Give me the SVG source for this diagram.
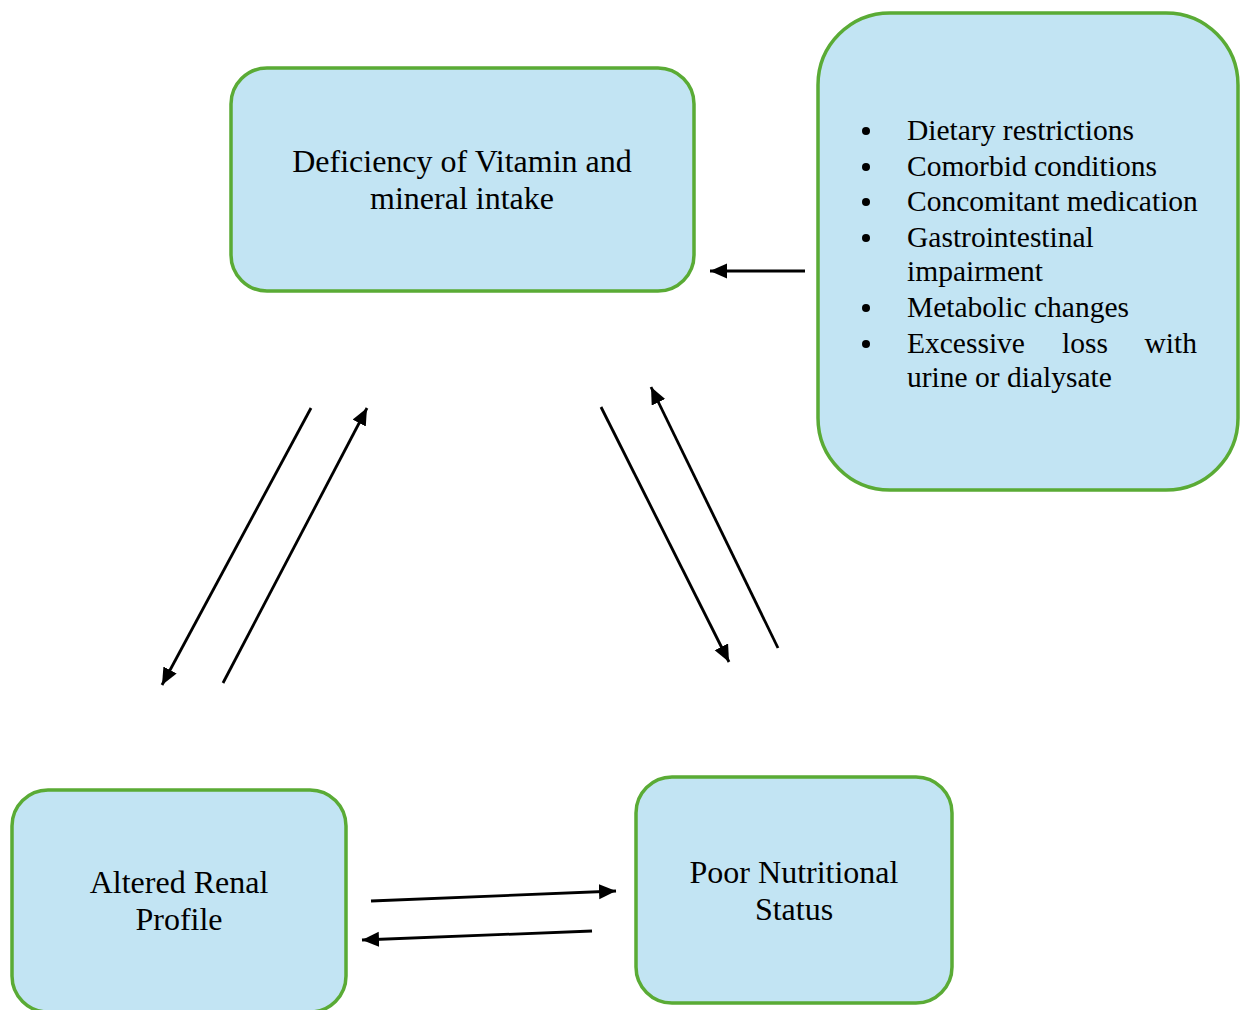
<svg xmlns="http://www.w3.org/2000/svg" width="1248" height="1010" viewBox="0 0 1248 1010">
<style>
.box{fill:#c2e4f3;stroke:#5aab35;stroke-width:3.5}
.t{font-family:"Liberation Serif","Times New Roman",serif;font-size:32px;fill:#000}
.l{font-family:"Liberation Serif","Times New Roman",serif;font-size:29.5px;fill:#000}
.c{stroke:#000;stroke-width:2.8;fill:none;marker-end:url(#ah)}
</style>
<defs>
<marker id="ah" markerUnits="userSpaceOnUse" markerWidth="20" markerHeight="16" refX="17" refY="7.5" orient="auto">
<path d="M0,0 L17,7.5 L0,15 z" fill="#000"/>
</marker>
</defs>
<rect width="1248" height="1010" fill="#fff"/>
<g id="n-deficiency">
<rect class="box" x="231" y="68" width="463" height="223" rx="36"/>
<text class="t" text-anchor="middle" x="462" y="172">Deficiency of Vitamin and</text>
<text class="t" text-anchor="middle" x="462" y="209">mineral intake</text>
</g>
<g id="n-factors">
<rect class="box" x="818" y="13" width="420" height="477" rx="72"/>
<circle cx="866" cy="131" r="4"/><text class="l" x="907" y="140">Dietary restrictions</text>
<circle cx="866" cy="167" r="4"/><text class="l" x="907" y="176">Comorbid conditions</text>
<circle cx="866" cy="202" r="4"/><text class="l" x="907" y="211">Concomitant medication</text>
<circle cx="866" cy="238" r="4"/><text class="l" x="907" y="247">Gastrointestinal</text>
<text class="l" x="907" y="281">impairment</text>
<circle cx="866" cy="308" r="4"/><text class="l" x="907" y="317">Metabolic changes</text>
<circle cx="866" cy="344" r="4"/><text class="l" x="907" y="353">Excessive</text>
<text class="l" x="1062" y="353">loss</text>
<text class="l" x="1197" y="353" text-anchor="end">with</text>
<text class="l" x="907" y="387">urine or dialysate</text>
</g>
<g id="n-renal">
<rect class="box" x="12" y="790" width="334" height="222" rx="36"/>
<text class="t" text-anchor="middle" x="179" y="893">Altered Renal</text>
<text class="t" text-anchor="middle" x="179" y="930">Profile</text>
</g>
<g id="n-nutrition">
<rect class="box" x="636" y="777" width="316" height="226" rx="36"/>
<text class="t" text-anchor="middle" x="794" y="883">Poor Nutritional</text>
<text class="t" text-anchor="middle" x="794" y="920">Status</text>
</g>
<g id="connectors">
<line class="c" x1="805" y1="271" x2="710" y2="271"/>
<line class="c" x1="311" y1="408" x2="162" y2="685"/>
<line class="c" x1="223" y1="683" x2="367" y2="408"/>
<line class="c" x1="601" y1="407" x2="729" y2="662"/>
<line class="c" x1="778" y1="648" x2="651" y2="387"/>
<line class="c" x1="371" y1="901" x2="616" y2="891"/>
<line class="c" x1="592" y1="931" x2="362" y2="940"/>
</g>
</svg>
